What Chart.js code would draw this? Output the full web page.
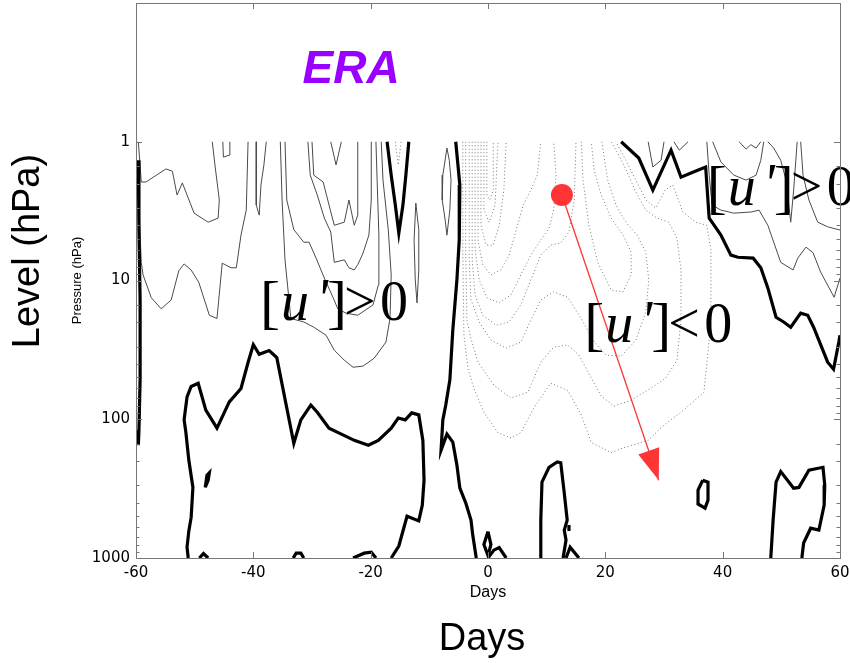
<!DOCTYPE html>
<html>
<head>
<meta charset="utf-8">
<script src="https://cdn.jsdelivr.net/npm/chart.js@4.4.1/dist/chart.umd.min.js"></script>
<style>
  html, body { margin: 0; padding: 0; background: #fff; }
  #wrap { width: 850px; height: 663px; }
</style>
</head>
<body>
<div id="wrap"><canvas id="myChart" width="850" height="663"></canvas></div>
<script>
// axes
var dayTicks = [-60, -40, -20, 0, 20, 40, 60];
var pressureLabels = [1, 10, 100, 1000];

// zero contours (thick), points are [day, hPa]
var zeroLeftEdge = [[-59.6,1.36],[-59.5,4.3],[-59.3,13.8],[-59.3,52],[-59.5,120],[-59.6,154]];
var zeroLowerLeft = [[-51.1,1000],[-51.3,835],[-51.0,640],[-50.6,510],[-50.3,310],[-51.0,197],[-51.5,124],[-51.8,101],[-51.3,69],[-50.6,58],[-49.4,55],[-48.1,86],[-46.2,116],[-44.1,75],[-42.1,60],[-40.9,39],[-40.0,29],[-39.0,34],[-37.3,32],[-36.0,36],[-34.4,79],[-33.1,149],[-31.9,101],[-30.2,79],[-29.1,89],[-27.1,116],[-25.0,128],[-22.8,142],[-20.4,154],[-18.7,142],[-16.5,116],[-15.3,98],[-14.1,101],[-13.0,90],[-11.8,93],[-11.1,142],[-10.9,275],[-11.2,416],[-11.8,540],[-13.8,500],[-15.2,820],[-16.5,1000]];
var zeroIsleLeft = [[-48.2,310],[-47.9,253],[-47.5,243],[-47.7,275],[-48.2,310]];
var zeroBumpA = [[-49.2,1000],[-48.5,930],[-47.7,1000]];
var zeroBumpB = [[-33.2,1000],[-32.7,923],[-31.9,923],[-31.4,1000]];
var zeroBumpC = [[-23.0,1000],[-21.1,923],[-19.9,907],[-19.1,1000]];
var zeroTopV = [[-17.2,1],[-16.5,1.74],[-15.8,2.86],[-15.2,4.55],[-14.5,2.86],[-14.0,1.74],[-13.5,1]];
var zeroDivide = [[-5.5,1],[-4.8,2.05],[-4.9,5.1],[-5.3,9.9],[-6.0,22.8],[-6.5,52],[-7.2,79],[-7.7,101],[-8.0,167],[-7.0,128],[-6.0,146],[-5.3,214],[-4.8,314],[-3.8,400],[-2.9,533],[-2.6,684],[-2.0,1000]];
var zeroLoopDay0 = [[0,645],[-0.7,800],[0,960],[0.5,800],[0,645]];
var zeroTailDay0 = [[0,1000],[1.0,878],[1.9,840],[3.1,1000]];
var zeroDay10 = [[8.9,1000],[9.0,533],[9.2,284],[10.4,222],[11.8,203],[12.4,206],[13.0,341],[13.5,533],[13.0,630],[13.3,743],[12.8,1000]];
var zeroTailDay14 = [[13.3,1000],[14.0,835],[15.5,1000]];
var zeroDotDay14 = [[13.8,579],[13.8,640]];
var zeroLoopDay36 = [[36.6,275],[35.8,324],[35.8,408],[37.0,437],[37.5,383],[37.5,284],[36.6,275]];
var zeroLowerRight = [[48.2,1000],[48.6,533],[49.1,284],[49.9,238],[52.1,314],[53.0,310],[54.7,233],[57.1,222],[57.4,298],[57.3,416],[56.4,630],[55.0,610],[53.8,780],[53.5,1000]];
var zeroUpperRight = [[22.7,1],[25.7,1.31],[28.1,2.23],[31.2,1.15],[32.9,1.8],[34.6,1.68],[37.1,1.52],[37.7,3.55],[38.3,3.86],[39.7,4.71],[41.4,6.56],[42.6,6.8],[45.2,6.9],[46.5,8.1],[47.7,11.3],[49.1,18.4],[50.4,19.9],[51.6,21.7],[53.3,17.2],[54.5,17.8],[55.5,21.7],[57.9,38.8],[58.9,43.6],[59.8,27.8],[60,24.8]];

// positive contours (thin solid)
var posA = [[-59.6,1],[-59.1,1.95],[-58.3,1.95],[-54.9,1.57],[-53.8,1.63],[-53.0,2.42],[-52.1,1.98],[-50.1,3.27],[-47.7,3.8],[-46.0,3.55],[-45.8,2.63],[-46.5,1.52],[-47.0,1]];
var posB = [[-59.5,2.86],[-59.1,7.4],[-58.8,9.1],[-57.4,13.3],[-55.7,16.0],[-54.0,13.8],[-52.7,8.5],[-51.8,7.6],[-50.6,8.4],[-49.3,10.3],[-47.5,17.8],[-46.2,18.8],[-45.3,7.5],[-43.8,8.1],[-42.9,8.1],[-42.1,4.7],[-41.2,3.1],[-40.9,1]];
var posC = [[-45.2,1],[-45.1,1.29],[-44.1,1.25],[-44.0,1]];
var posD = [[-39.5,1],[-39.5,2.86],[-39.0,3.38],[-38.7,2.05],[-38.2,1.47],[-37.8,1]];
var posUa = [[-35.4,1],[-35.1,2.63],[-34.6,7.1],[-33.6,18.8],[-31.4,19.9],[-29.7,21.7],[-27.6,24.8],[-26.2,31.8],[-24.5,37.5],[-23.0,42.2],[-21.3,41.4],[-19.4,36.3],[-17.4,27.8],[-16.7,18.8],[-16.5,9.1],[-17.0,4.3],[-17.9,1.89],[-18.2,1]];
var posUb = [[-34.6,1],[-34.3,2.63],[-33.1,4.3],[-31.4,5.3],[-30.5,5.3],[-29.3,6.9],[-27.9,9.6],[-26.4,13.3],[-25.6,16.0],[-24.2,17.2],[-22.2,17.8],[-19.6,15.0],[-18.7,10.8],[-18.6,4.7],[-18.9,1.89],[-19.1,1]];
var posUc = [[-30.7,1],[-30.3,1.74],[-29.1,2.42],[-27.9,3.55],[-26.8,4.48],[-26.2,7.4],[-24.5,7.1],[-23.7,8.1],[-22.8,8.4],[-22.2,7.7],[-21.3,6.35],[-20.3,4.7],[-19.9,2.63],[-19.9,1]];
var posUd = [[-30.0,1],[-29.7,1.74],[-28.1,1.95],[-26.8,3.2],[-26.2,4.0],[-24.5,3.8],[-23.7,2.63],[-22.8,4.0],[-22.2,3.38],[-22.2,1.74],[-22.2,1]];
var posVe = [[-26.8,1],[-25.9,1.47],[-25.0,1]];
var posEll1 = [[-12.3,2.77],[-12.6,5.1],[-12.4,9.9],[-12.1,14.5],[-11.8,8.4],[-11.8,4.3],[-12.3,2.77]];
var posEll2 = [[-7.0,1.11],[-7.7,1.74],[-7.8,2.63],[-7.3,3.67],[-7.0,4.71],[-6.5,3.1],[-6.3,1.89],[-6.6,1.36],[-7.0,1.11]];
var posR1 = [[27.3,1],[28.1,1.52],[29.5,1.36],[30.0,1]];
var posR2 = [[31.7,1],[32.6,1.15],[34.1,1]];
var posR3 = [[37.3,1],[37.7,1.74],[38.2,2.86],[39.7,3.11],[41.9,3.27],[44.8,3.21],[46.2,3.11],[47.7,4.0],[49.9,7.4],[52.0,8.4],[52.8,6.9],[54.2,5.75],[55.4,6.3],[56.7,8.7],[59.0,13.2],[60,9.6]];
var posR4 = [[53.3,1],[53.7,1.74],[54.7,2.63],[56.2,3.8],[57.9,4.1],[60,4.33]];
var posR5 = [[42.8,1],[44.0,1.13],[44.8,1.05],[45.7,1.11],[46.5,1]];
var posR6 = [[47.7,1],[48.7,1.11],[49.9,1.36],[50.8,1.89],[51.6,3.8],[52.1,2.23],[52.7,1]];
var posR7 = [[38.3,1],[39.7,1.40],[41.9,1.74],[44.0,1.89],[45.7,1.74],[46.5,1.36],[47.0,1]];

// negative contours (dotted)
var negD1 = [[-4.3,1],[-4.3,6.0],[-4.1,24.8],[-3.4,43.6],[-2.4,60],[-0.7,89],[1.7,125],[3.9,136],[5.6,125],[7.8,83],[10.7,55],[13.6,62],[15.9,93],[17.6,147],[21.0,174],[23.2,160],[27.3,142],[30.0,110],[32.9,89],[36.8,64],[38.0,19.9],[38.0,6.0],[37.3,4.0],[35.4,3.8],[33.2,3.2],[31.5,2.05],[30.2,2.23],[28.6,3.0],[26.9,2.63],[25.2,1.89],[23.5,1.36],[21.8,1]];
var negD2 = [[-3.8,1],[-3.8,6.0],[-3.6,19.3],[-2.9,26.2],[-1.7,38.8],[1.0,56.8],[3.9,70.4],[6.8,63.8],[9.0,38.8],[11.2,30.2],[13.6,29.2],[15.5,34.5],[17.6,50.5],[19.3,68],[21.5,80.5],[24.4,72.8],[27.8,59.7],[30.3,50.5],[32.2,37.5],[32.9,19.3],[32.9,8.4],[32.2,4.95],[30.8,3.8],[28.8,3.55],[26.9,3.11],[25.2,2.3],[23.7,1.65],[22.3,1.25],[21.0,1]];
var negD3 = [[-3.2,1],[-3.2,7.1],[-2.9,13.8],[-1.5,19.9],[0.5,26.9],[3.1,30.7],[5.6,27.8],[7.3,19.3],[9.0,13.8],[11.2,12.1],[13.6,13.2],[15.9,18.8],[17.9,26.9],[20.1,34.5],[22.7,35.1],[25.2,26.9],[26.9,16.9],[27.4,9.9],[26.9,6.25],[25.4,4.7],[23.5,3.8],[21.8,2.86],[20.4,1.89],[19.4,1]];
var negR1 = [[15.9,1],[16.2,1.89],[17.2,4.0],[18.7,7.4],[21.0,11.7],[23.0,12.1],[24.4,9.1],[24.4,6.25],[23.0,4.7],[21.0,3.55],[19.3,2.42],[18.1,1.6],[17.6,1]];
var negL1 = [[-2.7,1],[-2.7,7.1],[-2.2,12.7],[-0.9,17.8],[1.4,21.0],[3.6,19.9],[5.6,15.0],[7.3,9.9],[9.0,6.56],[10.7,5.56],[12.4,5.36],[13.8,4.48],[14.7,2.63],[15.0,1]];
var negL2 = [[-2.2,1],[-2.2,6.0],[-1.5,9.9],[-0.2,13.3],[1.9,14.5],[3.9,12.7],[5.6,9.1],[7.3,6.56],[9.0,5.1],[10.4,4.2],[11.2,3.1],[11.6,1.74],[11.2,1]];
var negL3 = [[-1.7,1],[-1.7,5.1],[-0.9,7.7],[0.5,9.1],[2.2,8.4],[3.6,6.56],[4.8,4.33],[6.0,2.86],[7.3,2.23],[8.4,1.74],[9.0,1]];
var negE1 = [[-1.2,1],[-1.2,4.0],[-0.3,5.56],[0.9,5.56],[1.9,4.0],[2.7,2.23],[3.1,1]];
var negE2 = [[-0.7,1],[-0.7,3.1],[0.2,3.8],[1.2,2.86],[1.7,1]];
var negE3 = [[-0.2,1],[-0.2,2.42],[0.3,2.63],[0.9,2.23],[0.9,1]];
var negTopV = [[-15.8,1],[-15.3,1.47],[-14.8,1]];

// red marker and arrow [day, hPa]
var markerPoint = [12.6, 2.42];
var arrowTip = [29.1, 275];

// text anchors [day, hPa]
var eraAnchor = [-31.6, 0.377];
var labelPosLeft = [-38.85, 19.3];
var labelNeg = [16.4, 27.8];
var labelPosRight = [37.3, 2.86];

var thickLines = [zeroLeftEdge, zeroLowerLeft, zeroIsleLeft, zeroBumpA, zeroBumpB, zeroBumpC, zeroTopV, zeroDivide,
  zeroLoopDay0, zeroTailDay0, zeroDay10, zeroTailDay14, zeroDotDay14, zeroLoopDay36, zeroLowerRight, zeroUpperRight];
var thinLines = [posA, posB, posC, posD, posUa, posUb, posUc, posUd, posVe, posEll1, posEll2,
  posR1, posR2, posR3, posR4, posR5, posR6, posR7];
var dottedLines = [negD1, negD2, negD3, negR1, negL1, negL2, negL3, negE1, negE2, negE3, negTopV];

function toPts(arr) {
  return arr.map(function (d) { return { x: d[0], y: d[1] }; });
}

function lineSet(arr, color, width, dash, order) {
  return {
    data: toPts(arr), showLine: true, borderColor: color, borderWidth: width,
    borderDash: dash, pointRadius: 0, fill: false, tension: 0, order: order
  };
}

var datasets = [];
datasets.push({ data: toPts([markerPoint]), pointRadius: 11, pointBackgroundColor: '#ff3535',
  pointBorderWidth: 0, showLine: false, order: 0 });
datasets.push(lineSet([markerPoint, arrowTip], '#ff3535', 1.3, [], 1));
thickLines.forEach(function (l) { datasets.push(lineSet(l, '#000', 3.2, [], 2)); });
thinLines.forEach(function (l) { datasets.push(lineSet(l, '#4a4a4a', 1, [], 3)); });
dottedLines.forEach(function (l) { datasets.push(lineSet(l, '#777', 1, [1, 2.5], 4)); });

function pix(chart, d) {
  return { x: chart.scales.x.getPixelForValue(d[0]), y: chart.scales.y.getPixelForValue(d[1]) };
}

function drawUprime(c, p, sign) {
  c.fillStyle = '#000';
  c.textAlign = 'left';
  c.textBaseline = 'alphabetic';
  c.font = '60px "Liberation Serif"';
  c.fillText('[', p.x, p.y + 2);
  c.font = 'italic 56px "Liberation Serif"';
  c.fillText('u', p.x + 21, p.y);
  c.fillText('\'', p.x + 56, p.y - 2);
  c.font = '60px "Liberation Serif"';
  c.fillText(']', p.x + 67, p.y + 2);
  c.font = '56px "Liberation Serif"';
  c.fillText(sign, p.x + 84, p.y);
  c.fillText('0', p.x + 120, p.y);
}

var decor = {
  id: 'decor',
  afterDatasetsDraw: function (chart) {
    var c = chart.ctx;
    c.save();
    // arrow head
    var a = pix(chart, markerPoint), b = pix(chart, arrowTip);
    var dx = b.x - a.x, dy = b.y - a.y, len = Math.sqrt(dx * dx + dy * dy);
    var ux = dx / len, uy = dy / len, hl = 31, hw = 11;
    c.fillStyle = '#ff3535';
    c.beginPath();
    c.moveTo(b.x, b.y);
    c.lineTo(b.x - ux * hl - uy * hw, b.y - uy * hl + ux * hw);
    c.lineTo(b.x - ux * hl + uy * hw, b.y - uy * hl - ux * hw);
    c.closePath();
    c.fill();
    // labels
    drawUprime(c, pix(chart, labelPosLeft), '>');
    drawUprime(c, pix(chart, labelNeg), '<');
    drawUprime(c, pix(chart, labelPosRight), '>');
    var e = pix(chart, eraAnchor);
    c.fillStyle = '#9a00ff';
    c.font = 'italic bold 46px "Liberation Sans"';
    c.fillText('ERA', e.x, e.y);
    c.restore();
  },
  afterDraw: function (chart) {
    var c = chart.ctx, ar = chart.chartArea, xs = chart.scales.x, ys = chart.scales.y;
    c.save();
    c.strokeStyle = '#777';
    c.lineWidth = 1;
    c.beginPath();
    dayTicks.forEach(function (d) {
      var x = Math.round(xs.getPixelForValue(d)) + 0.5;
      c.moveTo(x, ar.bottom); c.lineTo(x, ar.bottom - 6);
      c.moveTo(x, ar.top); c.lineTo(x, ar.top + 6);
    });
    ys.ticks.forEach(function (t) {
      if (t.value < 1) return;
      var major = pressureLabels.indexOf(t.value) >= 0;
      var l = major ? 6 : 3.5;
      var y = Math.round(ys.getPixelForValue(t.value)) + 0.5;
      c.moveTo(ar.left, y); c.lineTo(ar.left + l, y);
      c.moveTo(ar.right, y); c.lineTo(ar.right - l, y);
    });
    c.stroke();
    c.strokeRect(Math.round(ar.left) + 0.5, Math.round(ar.top) + 0.5,
      Math.round(ar.right - ar.left), Math.round(ar.bottom - ar.top));
    // big titles
    c.fillStyle = '#000';
    c.font = '38px "Liberation Sans"';
    c.textAlign = 'center';
    c.textBaseline = 'middle';
    c.fillText('Days', 482, 640);
    c.translate(29, 251);
    c.rotate(-Math.PI / 2);
    c.fillText('Level (hPa)', 0, 0);
    c.restore();
  }
};

new Chart(document.getElementById('myChart'), {
  type: 'scatter',
  data: { datasets: datasets },
  plugins: [decor],
  options: {
    responsive: false,
    animation: false,
    devicePixelRatio: 1,
    layout: { autoPadding: false, padding: { left: 0, top: 3, right: 10, bottom: 55 } },
    plugins: { legend: { display: false }, tooltip: { enabled: false } },
    scales: {
      x: {
        type: 'linear', min: -60, max: 60,
        afterBuildTicks: function (s) { s.ticks = dayTicks.map(function (v) { return { value: v }; }); },
        afterFit: function (s) { s.height = 50; s.paddingLeft = 0; s.paddingRight = 0; },
        grid: { display: false, drawTicks: false },
        border: { display: false },
        ticks: { color: '#000', padding: 6, font: { family: 'DejaVu Sans', size: 15 } },
        title: { display: true, text: 'Days', color: '#000', padding: { top: 0, bottom: 6 },
          font: { family: 'Liberation Sans', size: 16 } }
      },
      y: {
        type: 'logarithmic', min: 0.1, max: 1000, reverse: true,
        afterFit: function (s) { s.width = 136; s.paddingTop = 0; s.paddingBottom = 0; },
        grid: { display: false, drawTicks: false },
        border: { display: false },
        ticks: {
          color: '#000', padding: 6, autoSkip: false,
          font: { family: 'DejaVu Sans', size: 15, lineHeight: 0.1 },
          callback: function (v) { return pressureLabels.indexOf(v) >= 0 ? String(v) : ''; }
        },
        title: { display: true, text: 'Pressure (hPa)', color: '#000', padding: { top: 70, bottom: 0 },
          font: { family: 'Liberation Sans', size: 13 } }
      }
    }
  }
});
</script>
</body>
</html>
